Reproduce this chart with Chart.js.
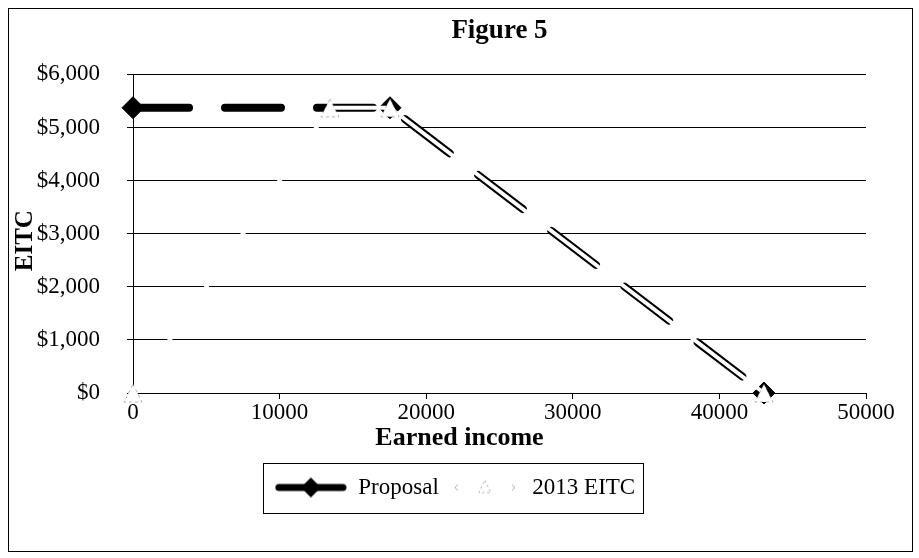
<!DOCTYPE html>
<html>
<head>
<meta charset="utf-8">
<script src="https://cdn.jsdelivr.net/npm/chart.js@4.4.1/dist/chart.umd.min.js"></script>
<style>
  html, body { margin: 0; padding: 0; background: #fff; }
  #frame { position: absolute; left: 8px; top: 8px; width: 903px; height: 542px; border: 1px solid #000; }
  canvas { display: block; }
</style>
</head>
<body>
<div id="frame"><canvas id="eitc" width="903" height="542"></canvas></div>
<script>
// Credit schedules (earned income -> credit, dollars)
const proposalIncome = [0, 17530, 43038];
const proposalCredit = [5372, 5372, 0];
const eitc2013Income = [0, 13430, 17530, 43038];
const eitc2013Credit = [0, 5372, 5372, 0];
const seriesNames = ['Proposal', '2013 EITC'];
const incomeTicks = [0, 10000, 20000, 30000, 40000, 50000];
const creditTicks = [0, 1000, 2000, 3000, 4000, 5000, 6000];
const chartTitle = 'Figure 5';
const xTitle = 'Earned income';
const yTitle = 'EITC';

const FONT = 'Liberation Serif, Times New Roman, serif';

const toPoints = (xs, ys) => xs.map((x, i) => ({ x, y: ys[i] }));

// White triangle marker with a faint dashed outline
function triangleMarker(size) {
  const c = document.createElement('canvas');
  c.width = size; c.height = size;
  const g = c.getContext('2d');
  g.beginPath();
  g.moveTo(size / 2, 1);
  g.lineTo(size - 1, size - 1);
  g.lineTo(1, size - 1);
  g.closePath();
  g.fillStyle = '#fff';
  g.fill();
  g.setLineDash([3, 3]);
  g.strokeStyle = 'rgba(0,0,0,0.3)';
  g.lineWidth = 1;
  g.stroke();
  return c;
}

// Legend sample: thick black line with a diamond
function proposalSample() {
  const c = document.createElement('canvas');
  c.width = 72; c.height = 24;
  const g = c.getContext('2d');
  g.strokeStyle = '#000';
  g.lineWidth = 7;
  g.lineCap = 'round';
  g.beginPath(); g.moveTo(4, 12); g.lineTo(68, 12); g.stroke();
  g.fillStyle = '#000';
  g.beginPath();
  g.moveTo(36, 2); g.lineTo(46, 12); g.lineTo(36, 22); g.lineTo(26, 12); g.closePath();
  g.fill();
  return c;
}

// Legend sample: white line and triangle, only faint edges show
function eitcSample() {
  const c = document.createElement('canvas');
  c.width = 72; c.height = 24;
  const g = c.getContext('2d');
  g.strokeStyle = 'rgba(0,0,0,0.35)';
  g.lineWidth = 1;
  g.beginPath(); g.moveTo(9, 9); g.lineTo(6, 12); g.lineTo(9, 15); g.stroke();
  g.beginPath(); g.moveTo(63, 9); g.lineTo(66, 12); g.lineTo(63, 15); g.stroke();
  g.setLineDash([2, 3]);
  g.strokeStyle = 'rgba(0,0,0,0.4)';
  g.beginPath(); g.moveTo(36, 5); g.lineTo(42, 17); g.lineTo(30, 17); g.closePath(); g.stroke();
  return c;
}

// Legend sits centred under the whole frame rather than the padded box
const LEGEND_SHIFT = 17.5;
const legendShift = {
  id: 'legendShift',
  afterLayout(chart) {
    const lg = chart.legend;
    if (!lg) return;
    lg.left += LEGEND_SHIFT;
    lg.right += LEGEND_SHIFT;
  }
};

// Draws the box around the legend
const legendFrame = {
  id: 'legendFrame',
  afterDraw(chart) {
    const lg = chart.legend;
    if (!lg || !lg.legendHitBoxes || !lg.legendHitBoxes.length) return;
    const boxes = lg.legendHitBoxes;
    const first = boxes[0], last = boxes[boxes.length - 1];
    const cy = first.top + first.height / 2;
    const left = first.left - 12, right = last.left + last.width + 8;
    const ctx = chart.ctx;
    ctx.save();
    ctx.strokeStyle = '#000';
    ctx.lineWidth = 1;
    ctx.strokeRect(Math.round(left) + 0.5, Math.round(cy - 25) + 0.5, Math.round(right - left), 50);
    ctx.restore();
  }
};

// Axis titles sit a little off the scale's own centre
const titleNudge = { x: [-40, 0], y: [2, 7] };
const nudgeTitles = {
  id: 'nudgeTitles',
  afterLayout(chart) {
    Object.keys(titleNudge).forEach(id => {
      const s = chart.scales[id];
      if (!s || s._nudged) return;
      const orig = s.drawTitle.bind(s);
      const [dx, dy] = titleNudge[id];
      s.drawTitle = function () {
        this.ctx.save();
        this.ctx.translate(dx, dy);
        orig();
        this.ctx.restore();
      };
      s._nudged = true;
    });
  }
};

const tri = triangleMarker(20);
const legendImages = [proposalSample(), eitcSample()];

new Chart(document.getElementById('eitc'), {
  type: 'line',
  data: {
    datasets: [
      {
        label: seriesNames[0],
        data: toPoints(proposalIncome, proposalCredit),
        borderColor: '#000',
        backgroundColor: '#000',
        borderWidth: 8,
        borderDash: [56, 36],
        borderCapStyle: 'round',
        borderJoinStyle: 'round',
        pointStyle: 'rectRot',
        pointRadius: 11,
        pointBackgroundColor: '#000',
        pointBorderColor: '#000',
        pointBorderWidth: 1,
        order: 1,
        clip: false
      },
      {
        label: seriesNames[1],
        data: toPoints(eitc2013Income, eitc2013Credit),
        borderColor: '#fff',
        backgroundColor: '#fff',
        borderWidth: 4,
        borderJoinStyle: 'round',
        pointStyle: tri,
        pointRadius: 10,
        order: 0,
        clip: false
      }
    ]
  },
  options: {
    responsive: false,
    animation: false,
    devicePixelRatio: 1,
    events: [],
    layout: { padding: { left: 0, right: 46, top: 0, bottom: 42 } },
    scales: {
      x: {
        type: 'linear',
        min: 0,
        max: 50000,
        afterBuildTicks: s => { s.ticks = incomeTicks.map(v => ({ value: v })); },
        afterFit: s => { s.height = 73; },
        grid: { drawOnChartArea: false, drawTicks: true, tickLength: 6, color: '#000', lineWidth: 1 },
        border: { display: true, color: '#000', width: 1 },
        ticks: {
          color: '#000',
          padding: 0,
          maxRotation: 0,
          font: { family: FONT, size: 23 },
          callback: v => String(v)
        },
        title: {
          display: true,
          text: xTitle,
          color: '#000',
          padding: { top: 0, bottom: 12 },
          font: { family: FONT, size: 26, weight: 'bold' }
        }
      },
      y: {
        type: 'linear',
        min: 0,
        max: 6000,
        afterBuildTicks: s => { s.ticks = creditTicks.map(v => ({ value: v })); },
        afterFit: s => { s.width = 124; },
        grid: { drawOnChartArea: true, drawTicks: true, tickLength: 6, color: '#000', lineWidth: 1 },
        border: { display: true, color: '#000', width: 1 },
        ticks: {
          color: '#000',
          padding: 27,
          font: { family: FONT, size: 23 },
          callback: v => '$' + Number(v).toLocaleString('en-US')
        },
        title: {
          display: true,
          text: yTitle,
          color: '#000',
          padding: 0,
          font: { family: FONT, size: 25, weight: 'bold' }
        }
      }
    },
    plugins: {
      title: {
        display: true,
        text: chartTitle,
        fullSize: false,
        color: '#000',
        padding: { top: 6, bottom: 27 },
        font: { family: FONT, size: 27, weight: 'bold' }
      },
      legend: {
        display: true,
        position: 'bottom',
        labels: {
          usePointStyle: true,
          pointStyleWidth: 72,
          padding: 10,
          color: '#000',
          font: { family: FONT, size: 23 },
          generateLabels: () => seriesNames.map((name, i) => ({
            text: name,
            pointStyle: legendImages[i],
            fillStyle: '#000',
            strokeStyle: '#000',
            lineWidth: 0,
            hidden: false,
            datasetIndex: i
          }))
        }
      },
      tooltip: { enabled: false }
    }
  },
  plugins: [legendShift, legendFrame, nudgeTitles]
});
</script>
</body>
</html>
